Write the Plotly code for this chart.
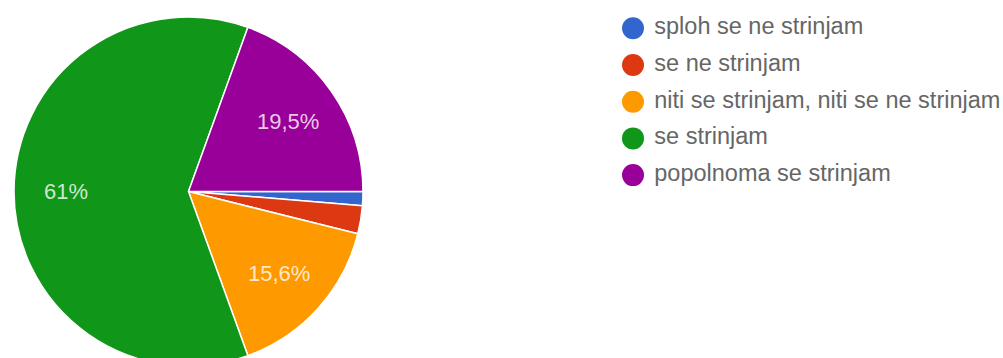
import math
import plotly.graph_objects as go

# Survey answers (Likert scale) and number of responses per answer
categories = [
    "sploh se ne strinjam",
    "se ne strinjam",
    "niti se strinjam, niti se ne strinjam",
    "se strinjam",
    "popolnoma se strinjam",
]
counts = [1, 2, 12, 47, 15]
colors = ["#3366cc", "#dc3912", "#ff9900", "#109618", "#990099"]

W, H = 1003, 368
total = sum(counts)

# Pie placement in pixels
cx, cy, r = 188.5, 191.5, 174.5
start_deg = 90  # first slice starts at 3 o'clock, going clockwise
label_frac = 0.7


def pct_label(v):
    p = round(100 * v / total, 1)
    if p < 5:
        return ""
    s = f"{p:.1f}".replace(".", ",")
    if s.endswith(",0"):
        s = s[:-2]
    return s + "%"


labels_txt = [pct_label(v) for v in counts]

fig = go.Figure()

fig.add_trace(go.Pie(
    labels=categories,
    values=counts,
    textinfo="none",
    sort=False,
    direction="clockwise",
    rotation=start_deg,
    marker=dict(colors=colors, line=dict(color="white", width=1.5)),
    domain=dict(x=[(cx - r) / W, (cx + r) / W], y=[1 - (cy + r) / H, 1 - (cy - r) / H]),
    showlegend=False,
    hoverinfo="label+percent",
))

# Percentage labels placed along each slice's middle angle
acc = 0.0
for v, txt in zip(counts, labels_txt):
    mid = math.radians(start_deg + 360 * (acc + v / 2) / total)
    acc += v
    if not txt:
        continue
    px = cx + label_frac * r * math.sin(mid)
    py = cy - label_frac * r * math.cos(mid)
    fig.add_annotation(
        x=px / W, y=1 - py / H, xref="paper", yref="paper",
        text=txt, showarrow=False, xanchor="center", yanchor="middle",
        font=dict(family="Liberation Sans, Arial, sans-serif", size=22,
                  color="rgba(255,255,255,0.8)"),
    )

# Legend drawn as a column of circle markers with the category names beside them
fig.add_trace(go.Scatter(
    x=[0] * len(categories),
    y=categories,
    mode="markers+text",
    text=[" " + c for c in categories],
    textposition="middle right",
    marker=dict(color=colors, size=22, symbol="circle"),
    textfont=dict(family="Liberation Sans, Arial, sans-serif", size=23.5,
                  color="#666666"),
    xaxis="x2",
    yaxis="y2",
    showlegend=False,
    hoverinfo="skip",
    cliponaxis=False,
))

row0, step = 28.3, 36.7
fig.update_layout(
    width=W,
    height=H,
    margin=dict(l=0, r=0, t=0, b=0),
    paper_bgcolor="white",
    plot_bgcolor="rgba(0,0,0,0)",
    xaxis2=dict(domain=[633 / W, 1.0], range=[0, 1], visible=False, fixedrange=True),
    yaxis2=dict(domain=[0, 1], range=[(H - row0) / step, -row0 / step],
                visible=False, fixedrange=True, type="category"),
)

fig.write_html(
    "out.html",
    post_script="document.documentElement.style.overflow='hidden';"
                "document.body.style.overflow='hidden';",
)
